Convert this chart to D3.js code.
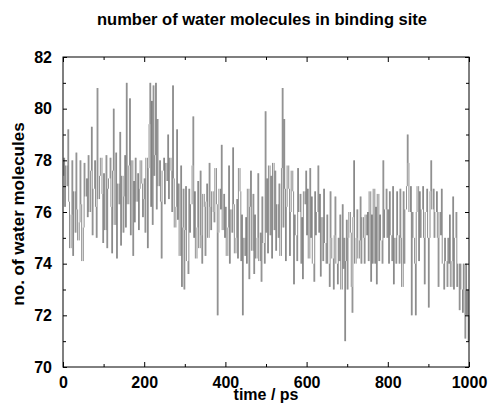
<!DOCTYPE html>
<html>
<head>
<meta charset="utf-8">
<script src="https://cdn.jsdelivr.net/npm/d3@7"></script>
<style>
  html, body { margin: 0; padding: 0; background: #fff; }
  text { font-family: "Liberation Sans", Arial, sans-serif; font-weight: bold; fill: #000; }
  .axis .domain { display: none; }
  .axis line { stroke: #000; }
</style>
</head>
<body>
<div id="chart"></div>
<script>
// ---------- data ----------
const chartTitle = "number of water molecules in binding site";
const xTitle = "time / ps";
const yTitle = "no. of water molecules";
const timeStep = 2;                       // ps between samples
const xTickLabels = [0, 200, 400, 600, 800, 1000];
const xMinorTicks = [100, 300, 500, 700, 900];
const yTickLabels = [70, 72, 74, 76, 78, 80, 82];
const yMinorTicks = [71, 73, 75, 77, 79, 81];

// number of water molecules, one value every 2 ps, 0..1000 ps
const waterCount = [
  77.4,78.1,76.2,77.8,77.8,77.0,79.2,76.4,74.6,74.6,75.9,78.0,74.3,76.8,76.8,75.2,78.3,76.1,74.9,74.9,75.6,78.0,76.3,74.1,74.1,
  75.4,77.9,76.6,76.6,77.3,75.8,78.2,76.0,76.0,77.6,79.3,75.1,76.9,76.9,78.0,76.2,75.0,80.8,76.5,76.5,77.4,78.1,78.1,76.7,74.8,
  77.5,75.3,75.3,78.2,74.6,76.9,77.3,77.3,78.1,76.2,74.4,77.6,80.0,75.5,75.5,78.3,74.2,77.1,77.1,76.3,79.1,74.7,77.4,77.4,75.2,
  76.6,78.2,75.4,81.0,76.3,76.3,77.8,80.4,75.1,78.0,78.0,74.3,77.2,75.6,78.1,76.4,76.4,77.5,75.3,76.9,78.0,78.0,77.1,75.8,76.5,
  77.3,75.2,78.1,78.1,74.6,77.7,79.4,81.0,76.2,80.3,75.5,80.9,77.4,78.2,81.0,76.1,79.6,77.0,77.0,78.0,76.4,74.2,77.6,77.6,78.1,
  76.3,77.9,77.9,77.2,79.0,76.5,78.1,78.1,77.6,76.0,80.9,77.3,75.4,75.4,76.2,79.2,75.7,77.1,74.3,74.3,77.8,73.1,75.4,76.9,73.0,
  75.3,77.0,74.1,74.1,73.6,76.9,75.2,76.3,76.3,77.8,79.7,75.0,76.8,74.2,74.2,75.4,77.2,74.6,74.6,77.6,75.1,74.0,76.7,76.7,76.2,
  74.3,76.4,77.1,75.0,75.0,77.9,76.2,75.3,76.8,76.8,76.0,75.6,77.7,77.7,76.3,72.0,75.2,76.9,76.9,76.1,78.6,75.3,75.3,76.7,75.0,
  76.2,74.3,74.3,75.4,77.8,74.0,76.1,76.1,75.2,78.5,76.3,74.4,74.4,75.0,76.5,74.2,77.7,77.7,76.8,74.1,75.9,72.0,75.0,75.0,74.3,
  75.8,74.0,76.9,76.9,73.4,76.2,77.6,74.5,74.5,76.7,73.6,75.9,74.2,74.2,75.0,77.5,74.1,74.1,75.2,73.3,76.6,74.8,74.8,74.0,79.9,
  75.2,77.3,74.4,77.8,77.8,75.1,77.4,74.2,77.9,77.9,75.3,77.6,74.5,76.3,76.3,75.0,77.1,74.3,74.3,77.7,80.8,75.4,79.6,76.9,74.1,
  76.2,77.8,77.8,76.9,74.3,76.0,77.6,77.6,76.8,73.2,75.9,75.1,75.1,74.1,77.7,76.0,76.0,76.7,74.0,75.8,73.4,76.8,76.8,76.3,77.6,
  75.1,76.9,74.2,74.2,77.7,75.0,76.6,74.0,74.0,73.3,76.8,75.1,76.0,76.0,77.8,75.2,76.7,73.5,75.8,75.8,74.1,76.9,74.8,74.8,74.0,
  75.9,74.0,74.0,73.1,76.8,75.0,74.2,74.2,73.0,75.1,76.6,74.0,74.0,73.2,75.0,74.1,75.9,73.0,73.0,76.3,73.8,75.0,71.0,74.1,75.7,
  73.0,75.0,76.0,76.0,75.2,73.1,72.1,75.8,78.0,74.0,74.0,75.0,76.1,74.2,74.2,74.9,76.6,74.0,75.8,75.8,75.0,74.0,75.9,75.9,75.1,
  76.0,74.1,76.8,76.8,73.3,75.9,74.0,76.9,76.9,74.0,76.2,73.2,76.7,76.7,74.1,75.9,74.9,74.9,74.0,78.0,75.0,76.1,76.1,76.9,75.0,
  76.1,74.0,76.8,75.1,75.1,74.1,77.0,73.2,75.0,75.0,74.0,76.8,75.1,75.1,74.0,76.9,75.0,73.1,73.1,76.8,74.0,76.1,76.1,77.0,79.0,
  77.9,76.0,76.0,77.0,72.0,76.0,75.0,75.0,74.0,72.0,76.0,77.0,77.0,74.1,76.8,75.0,76.1,76.1,77.0,75.0,73.2,76.0,76.0,76.9,75.0,
  72.3,75.0,76.8,78.0,76.1,76.1,76.9,75.0,76.0,76.0,76.8,75.0,73.1,76.0,76.0,75.1,76.9,74.0,74.0,73.0,75.0,74.1,74.1,73.1,75.0,
  74.0,75.9,73.1,73.1,74.1,76.6,73.0,75.0,75.0,76.0,73.1,74.0,74.0,72.2,74.0,73.0,73.0,72.1,74.0,73.0,71.1,74.0,72.0,73.0,71.0,
  72.0
];

window.addEventListener("DOMContentLoaded", () => {
  const width = 490, height = 411;
  const margin = { top: 57, right: 21, bottom: 44, left: 63 };
  const innerW = width - margin.left - margin.right;
  const innerH = height - margin.top - margin.bottom;

  const svg = d3.select("#chart").append("svg")
    .attr("width", width)
    .attr("height", height);

  const g = svg.append("g")
    .attr("transform", `translate(${margin.left},${margin.top})`);

  // each sample drawn as the jump from the previous count
  const steps = waterCount.slice(1).map((v, i) => ({
    t: (i + 1) * timeStep,
    from: waterCount[i],
    to: v
  })).filter(d => d.from !== d.to);

  // ---------- scales ----------
  const x = d3.scaleLinear().domain([0, 1000]).range([0, innerW]);
  const y = d3.scaleLinear().domain([70, 82]).range([innerH, 0]);

  // ---------- data strokes ----------
  g.append("g")
    .selectAll("line")
    .data(steps)
    .join("line")
    .attr("x1", d => x(d.t))
    .attr("x2", d => x(d.t))
    .attr("y1", d => y(d.from))
    .attr("y2", d => y(d.to))
    .attr("stroke", "#5e5e5e")
    .attr("stroke-width", 0.7);

  // ---------- axes (ticks point inward) ----------
  const axBottom = g.append("g").attr("class", "axis")
    .attr("transform", `translate(0,${innerH})`)
    .call(d3.axisBottom(x).tickValues(xTickLabels).tickSize(-5).tickPadding(10)
      .tickFormat(d3.format("d")));
  axBottom.selectAll("text").attr("font-size", 16);

  g.append("g").attr("class", "axis")
    .attr("transform", `translate(0,${innerH})`)
    .call(d3.axisBottom(x).tickValues(xMinorTicks).tickSize(-3).tickFormat(""));

  g.append("g").attr("class", "axis")
    .call(d3.axisTop(x).tickValues(xTickLabels).tickSize(-5).tickFormat(""));
  g.append("g").attr("class", "axis")
    .call(d3.axisTop(x).tickValues(xMinorTicks).tickSize(-3).tickFormat(""));

  const axLeft = g.append("g").attr("class", "axis")
    .call(d3.axisLeft(y).tickValues(yTickLabels).tickSize(-4).tickPadding(11)
      .tickFormat(d3.format("d")));
  axLeft.selectAll("text").attr("font-size", 16);

  g.append("g").attr("class", "axis")
    .call(d3.axisLeft(y).tickValues(yMinorTicks).tickSize(-3).tickFormat(""));

  g.append("g").attr("class", "axis")
    .attr("transform", `translate(${innerW},0)`)
    .call(d3.axisRight(y).tickValues(yTickLabels).tickSize(-4).tickFormat(""));
  g.append("g").attr("class", "axis")
    .attr("transform", `translate(${innerW},0)`)
    .call(d3.axisRight(y).tickValues(yMinorTicks).tickSize(-3).tickFormat(""));

  // frame
  g.append("rect")
    .attr("width", innerW)
    .attr("height", innerH)
    .attr("fill", "none")
    .attr("stroke", "#000")
    .attr("stroke-width", 1);

  // ---------- titles ----------
  svg.append("text")
    .attr("x", 262)
    .attr("y", 25)
    .attr("text-anchor", "middle")
    .attr("font-size", 16.5)
    .text(chartTitle);

  svg.append("text")
    .attr("x", margin.left + innerW / 2)
    .attr("y", 400)
    .attr("text-anchor", "middle")
    .attr("font-size", 16)
    .text(xTitle);

  svg.append("text")
    .attr("transform", `translate(24,214) rotate(-90)`)
    .attr("text-anchor", "middle")
    .attr("font-size", 17)
    .text(yTitle);
});
</script>
</body>
</html>
